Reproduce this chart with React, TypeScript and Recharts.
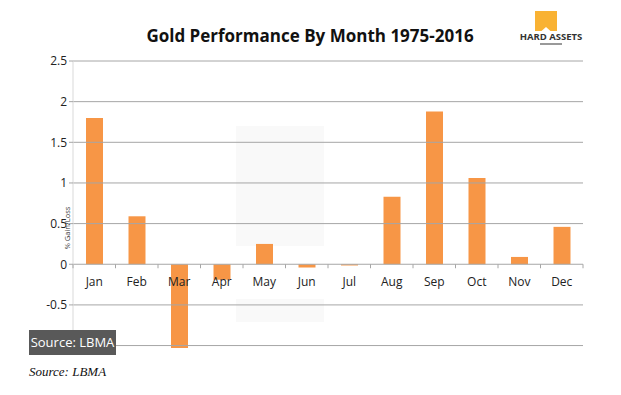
import { Bar, BarChart, ReferenceLine, XAxis, YAxis } from "recharts";

// Gold average monthly % gain/loss, 1975-2016 (LBMA)
const MONTHS = ["Jan", "Feb", "Mar", "Apr", "May", "Jun", "Jul", "Aug", "Sep", "Oct", "Nov", "Dec"];
const GAIN = [1.8, 0.59, -1.03, -0.19, 0.25, -0.04, -0.015, 0.83, 1.88, 1.06, 0.09, 0.46];
const Y_TICKS = [-1, -0.5, 0, 0.5, 1, 1.5, 2, 2.5];

const data = MONTHS.map((m, i) => ({ month: m, gain: GAIN[i] }));

const W = 621;
const H = 395;
const X_AXIS_H = 1;
const MARGIN = { top: 61, right: 38, bottom: 46, left: 33 };
const Y_AXIS_W = 40;
// Mar dips a bit below the -1 gridline, so the scale runs to the data minimum
const Y_MIN = Math.min(...GAIN);
const Y_MAX = Y_TICKS[Y_TICKS.length - 1];
const PLOT_H = H - MARGIN.top - MARGIN.bottom - X_AXIS_H;
const PLOT_W = W - MARGIN.left - MARGIN.right - Y_AXIS_W;
const ZERO_Y = MARGIN.top + (Y_MAX / (Y_MAX - Y_MIN)) * PLOT_H;
const BAND = PLOT_W / MONTHS.length;

const FONT = "'Open Sans', sans-serif";
const ORANGE = "#F79646";
const GRID = "#a6a6a6";

// month labels sit under the zero line, with small ticks on the band edges
function MonthTick(props: any) {
  const { x, payload, index } = props;
  const last = index === MONTHS.length - 1;
  return (
    <g>
      <line x1={x - BAND / 2} x2={x - BAND / 2} y1={ZERO_Y} y2={ZERO_Y + 4} stroke={GRID} />
      {last && <line x1={x + BAND / 2} x2={x + BAND / 2} y1={ZERO_Y} y2={ZERO_Y + 4} stroke={GRID} />}
      <text x={x} y={ZERO_Y + 22} textAnchor="middle" fontSize={12} fill="#222" fontFamily={FONT}>
        {payload.value}
      </text>
    </g>
  );
}

export default function App() {
  return (
    <div style={{ position: "relative", width: W, height: H, margin: -8, background: "#fff" }}>
      {/* faint watermark blocks */}
      <svg width={W} height={H} style={{ position: "absolute", left: 0, top: 0 }}>
        <rect x={236} y={126} width={88} height={120} fill="#f9f9f9" />
        <rect x={236} y={299} width={88} height={23} fill="#f9f9f9" />
      </svg>
      <div style={{ position: "absolute", left: 0, top: 0 }}>
        <BarChart width={W} height={H} data={data} margin={MARGIN}>
          {Y_TICKS.map((t) => (
            <ReferenceLine key={t} y={t} stroke={GRID} />
          ))}
          <XAxis
            dataKey="month"
            height={X_AXIS_H}
            axisLine={false}
            tickLine={false}
            interval={0}
            tick={<MonthTick />}
          />
          <YAxis
            width={Y_AXIS_W}
            domain={[Y_MIN, Y_MAX]}
            ticks={Y_TICKS}
            interval={0}
            axisLine={{ stroke: "#d9d9d9" }}
            tickLine={{ stroke: GRID }}
            tickSize={4}
            tick={{ fontSize: 12, fill: "#222", fontFamily: FONT }}
          />
          <Bar dataKey="gain" fill={ORANGE} barSize={17} isAnimationActive={false} />
        </BarChart>
      </div>
      <svg width={W} height={H} style={{ position: "absolute", left: 0, top: 0, pointerEvents: "none" }}>
        <text x={310} y={42} textAnchor="middle" fontSize={17} fontWeight={700} fill="#111" fontFamily={FONT}>
          Gold Performance By Month 1975-2016
        </text>
        <text
          transform="translate(70 228) rotate(-90)"
          textAnchor="middle"
          fontSize={7.5}
          fill="#333"
          fontFamily={FONT}
        >
          % Gain/Loss
        </text>
        {/* logo */}
        <path d="M535 11 H557 V31 H550.5 L546 27 L541.5 31 H535 Z" fill="#f9b233" />
        <text x={551} y={40} textAnchor="middle" fontSize={9.5} fontWeight={700} fill="#333" fontFamily={FONT}>
          HARD ASSETS
        </text>
        <rect x={540} y={43} width={22} height={2} fill="#999" />
        {/* source tag */}
        <rect x={29} y={330} width={87} height={25} fill="#595959" />
        <text x={72.5} y={347} textAnchor="middle" fontSize={13} fill="#fff" fontFamily={FONT}>
          Source: LBMA
        </text>
        <text x={29} y={376} fontSize={13} fontStyle="italic" fill="#111" fontFamily="'Liberation Serif', serif">
          Source: LBMA
        </text>
      </svg>
    </div>
  );
}
